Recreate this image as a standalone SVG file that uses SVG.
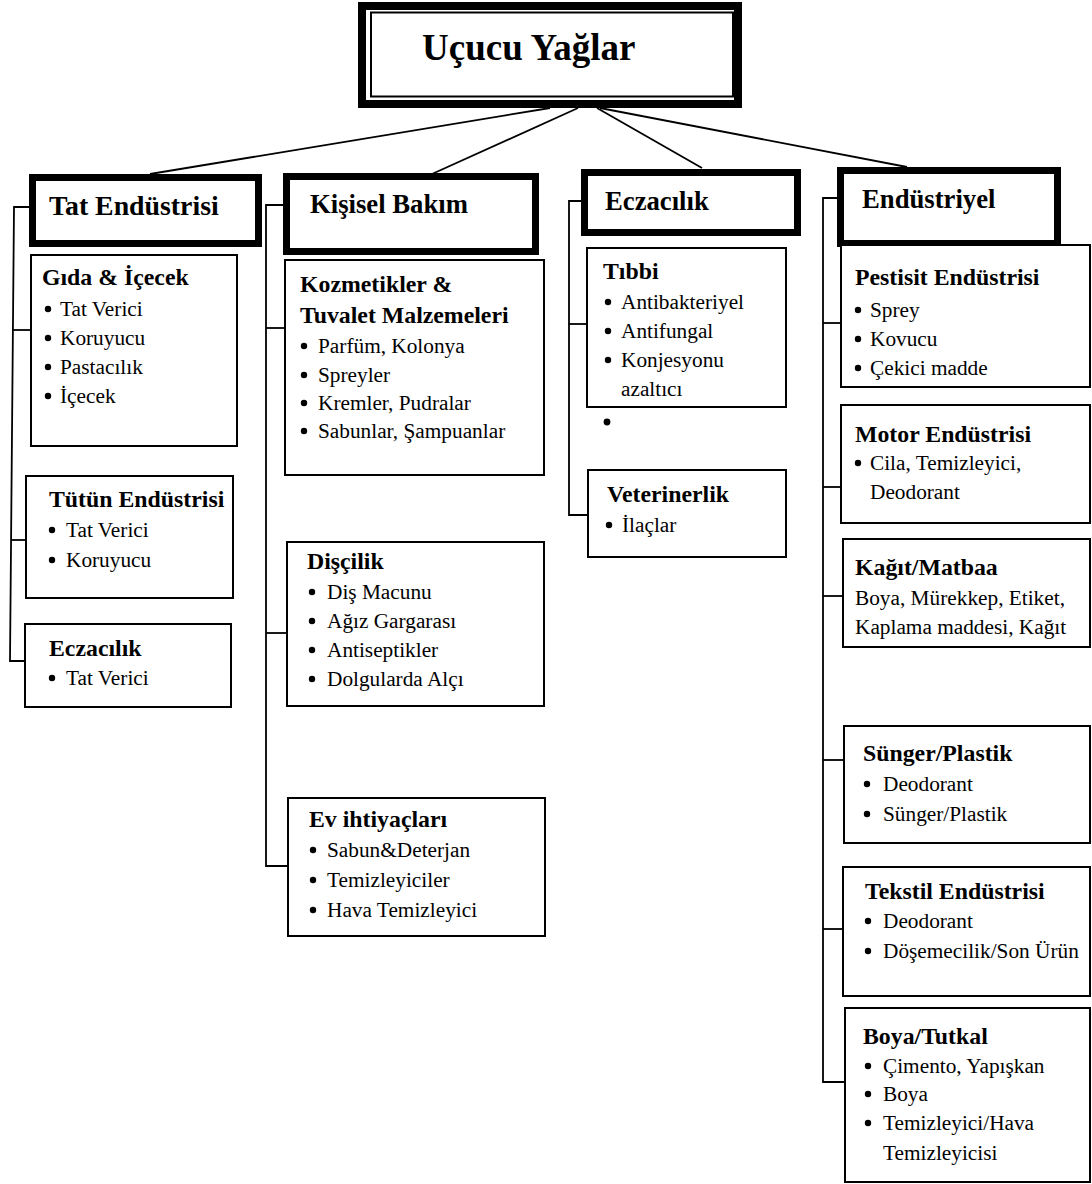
<svg xmlns="http://www.w3.org/2000/svg" width="1092" height="1184" viewBox="0 0 1092 1184">
<style>
text{font-family:"Liberation Serif","Times New Roman",serif;fill:#000}
.t{font-size:37px;font-weight:bold}
.h{font-size:26.7px;font-weight:bold}
.s{font-size:23.8px;font-weight:bold}
.b{font-size:21.3px}
.hb{fill:#fff;stroke:#000;stroke-width:7}
.bx{fill:#fff;stroke:#000;stroke-width:2}
.ln{fill:none;stroke:#000;stroke-width:1.8}
.dot{fill:#000}
</style>
<rect width="1092" height="1184" fill="#fff"/>
<g id="connectors">
<line class="ln" x1="550" y1="108" x2="150" y2="174"/>
<line class="ln" x1="578" y1="108" x2="432" y2="174"/>
<line class="ln" x1="597" y1="108" x2="702" y2="168"/>
<line class="ln" x1="600" y1="108" x2="907" y2="167"/>
<polyline class="ln" points="30,207 14,207 10,661 25,661"/>
<line class="ln" x1="13" y1="330" x2="30" y2="330"/>
<line class="ln" x1="11.5" y1="540" x2="26" y2="540"/>
<polyline class="ln" points="283,205 266,205 266,866 287,866"/>
<line class="ln" x1="266" y1="328" x2="285" y2="328"/>
<line class="ln" x1="266" y1="633" x2="287" y2="633"/>
<polyline class="ln" points="581,201 569,201 569,515 588,515"/>
<line class="ln" x1="569" y1="324" x2="587" y2="324"/>
<polyline class="ln" points="837,198 823,198 823,1082 845,1082"/>
<line class="ln" x1="823" y1="323" x2="841" y2="323"/>
<line class="ln" x1="823" y1="487" x2="841" y2="487"/>
<line class="ln" x1="823" y1="596" x2="843" y2="596"/>
<line class="ln" x1="823" y1="760" x2="844" y2="760"/>
<line class="ln" x1="823" y1="929" x2="843" y2="929"/>
</g>
<g id="root">
<rect x="362" y="6" width="376" height="98" fill="#fff" stroke="#000" stroke-width="8"/>
<rect x="371" y="12.5" width="362" height="84" fill="none" stroke="#000" stroke-width="2"/>
<text class="t" x="422" y="60">Uçucu Yağlar</text>
</g>
<g id="tat">
<rect class="hb" x="32.5" y="177.5" width="226" height="66"/>
<text class="h" x="49" y="215" style="font-size:27.8px">Tat Endüstrisi</text>
</g>
<g id="gida">
<rect class="bx" x="31" y="255" width="206" height="191"/>
<text class="s" x="42" y="285">Gıda &amp; İçecek</text>
<circle class="dot" cx="48" cy="309" r="3.2"/><text class="b" x="60" y="316">Tat Verici</text>
<circle class="dot" cx="48" cy="338" r="3.2"/><text class="b" x="60" y="345">Koruyucu</text>
<circle class="dot" cx="48" cy="367" r="3.2"/><text class="b" x="60" y="374">Pastacılık</text>
<circle class="dot" cx="48" cy="396" r="3.2"/><text class="b" x="60" y="403">İçecek</text>
</g>
<g id="tutun">
<rect class="bx" x="26" y="476" width="207" height="122"/>
<text class="s" x="49" y="507">Tütün Endüstrisi</text>
<circle class="dot" cx="52" cy="530" r="3.2"/><text class="b" x="66" y="537">Tat Verici</text>
<circle class="dot" cx="52" cy="560" r="3.2"/><text class="b" x="66" y="567">Koruyucu</text>
</g>
<g id="eczacilik1">
<rect class="bx" x="25" y="624" width="206" height="83"/>
<text class="s" x="49" y="656">Eczacılık</text>
<circle class="dot" cx="52" cy="678" r="3.2"/><text class="b" x="66" y="685">Tat Verici</text>
</g>
<g id="kisisel">
<rect class="hb" x="286.5" y="176.5" width="249" height="75"/>
<text class="h" x="310" y="213">Kişisel Bakım</text>
</g>
<g id="kozmetik">
<rect class="bx" x="285" y="260" width="259" height="215"/>
<text class="s" x="300" y="292">Kozmetikler &amp;</text>
<text class="s" x="300" y="323">Tuvalet Malzemeleri</text>
<circle class="dot" cx="304" cy="346" r="3.2"/><text class="b" x="318" y="353">Parfüm, Kolonya</text>
<circle class="dot" cx="304" cy="375" r="3.2"/><text class="b" x="318" y="382">Spreyler</text>
<circle class="dot" cx="304" cy="403" r="3.2"/><text class="b" x="318" y="410">Kremler, Pudralar</text>
<circle class="dot" cx="304" cy="431" r="3.2"/><text class="b" x="318" y="438">Sabunlar, Şampuanlar</text>
</g>
<g id="discilik">
<rect class="bx" x="287" y="542" width="257" height="164"/>
<text class="s" x="307" y="569">Dişçilik</text>
<circle class="dot" cx="312" cy="592" r="3.2"/><text class="b" x="327" y="599">Diş Macunu</text>
<circle class="dot" cx="312" cy="621" r="3.2"/><text class="b" x="327" y="628">Ağız Gargarası</text>
<circle class="dot" cx="312" cy="650" r="3.2"/><text class="b" x="327" y="657">Antiseptikler</text>
<circle class="dot" cx="312" cy="679" r="3.2"/><text class="b" x="327" y="686">Dolgularda Alçı</text>
</g>
<g id="ev">
<rect class="bx" x="288" y="798" width="257" height="138"/>
<text class="s" x="309" y="827">Ev ihtiyaçları</text>
<circle class="dot" cx="313" cy="850" r="3.2"/><text class="b" x="327" y="857">Sabun&amp;Deterjan</text>
<circle class="dot" cx="313" cy="880" r="3.2"/><text class="b" x="327" y="887">Temizleyiciler</text>
<circle class="dot" cx="313" cy="910" r="3.2"/><text class="b" x="327" y="917">Hava Temizleyici</text>
</g>
<g id="eczacilik">
<rect class="hb" x="584.5" y="172.5" width="213" height="60"/>
<text class="h" x="605" y="210">Eczacılık</text>
</g>
<g id="tibbi">
<rect class="bx" x="587" y="248" width="199" height="159"/>
<text class="s" x="603" y="279">Tıbbi</text>
<circle class="dot" cx="608" cy="302" r="3.2"/><text class="b" x="621" y="309">Antibakteriyel</text>
<circle class="dot" cx="608" cy="331" r="3.2"/><text class="b" x="621" y="338">Antifungal</text>
<circle class="dot" cx="608" cy="360" r="3.2"/><text class="b" x="621" y="367">Konjesyonu</text>
<text class="b" x="621" y="396">azaltıcı</text>
<circle class="dot" cx="607" cy="422" r="3.4"/>
</g>
<g id="veteriner">
<rect class="bx" x="588" y="470" width="198" height="87"/>
<text class="s" x="607" y="502">Veterinerlik</text>
<circle class="dot" cx="609" cy="525" r="3.2"/><text class="b" x="622" y="532">İlaçlar</text>
</g>
<g id="endustriyel">
<rect class="hb" x="840.5" y="170.5" width="217" height="73"/>
<text class="h" x="862" y="208">Endüstriyel</text>
</g>
<g id="pestisit">
<rect class="bx" x="841" y="245" width="249" height="142"/>
<text class="s" x="855" y="285">Pestisit Endüstrisi</text>
<circle class="dot" cx="858" cy="310" r="3.2"/><text class="b" x="870" y="317">Sprey</text>
<circle class="dot" cx="858" cy="339" r="3.2"/><text class="b" x="870" y="346">Kovucu</text>
<circle class="dot" cx="858" cy="368" r="3.2"/><text class="b" x="870" y="375">Çekici madde</text>
</g>
<g id="motor">
<rect class="bx" x="841" y="405" width="249" height="118"/>
<text class="s" x="855" y="442">Motor Endüstrisi</text>
<circle class="dot" cx="858" cy="463" r="3.2"/><text class="b" x="870" y="470">Cila, Temizleyici,</text>
<text class="b" x="870" y="499">Deodorant</text>
</g>
<g id="kagit">
<rect class="bx" x="843" y="539" width="247" height="108"/>
<text class="s" x="855" y="575">Kağıt/Matbaa</text>
<text class="b" x="855" y="605">Boya, Mürekkep, Etiket,</text>
<text class="b" x="855" y="634">Kaplama maddesi, Kağıt</text>
</g>
<g id="sunger">
<rect class="bx" x="844" y="726" width="246" height="117"/>
<text class="s" x="863" y="761">Sünger/Plastik</text>
<circle class="dot" cx="867" cy="784" r="3.2"/><text class="b" x="883" y="791">Deodorant</text>
<circle class="dot" cx="867" cy="814" r="3.2"/><text class="b" x="883" y="821">Sünger/Plastik</text>
</g>
<g id="tekstil">
<rect class="bx" x="843" y="867" width="247" height="129"/>
<text class="s" x="865" y="899">Tekstil Endüstrisi</text>
<circle class="dot" cx="868" cy="921" r="3.2"/><text class="b" x="883" y="928">Deodorant</text>
<circle class="dot" cx="868" cy="951" r="3.2"/><text class="b" x="883" y="958">Döşemecilik/Son Ürün</text>
</g>
<g id="boya">
<rect class="bx" x="845" y="1008" width="245" height="174"/>
<text class="s" x="863" y="1044">Boya/Tutkal</text>
<circle class="dot" cx="868" cy="1066" r="3.2"/><text class="b" x="883" y="1073">Çimento, Yapışkan</text>
<circle class="dot" cx="868" cy="1094" r="3.2"/><text class="b" x="883" y="1101">Boya</text>
<circle class="dot" cx="868" cy="1123" r="3.2"/><text class="b" x="883" y="1130">Temizleyici/Hava</text>
<text class="b" x="883" y="1160">Temizleyicisi</text>
</g>
</svg>
